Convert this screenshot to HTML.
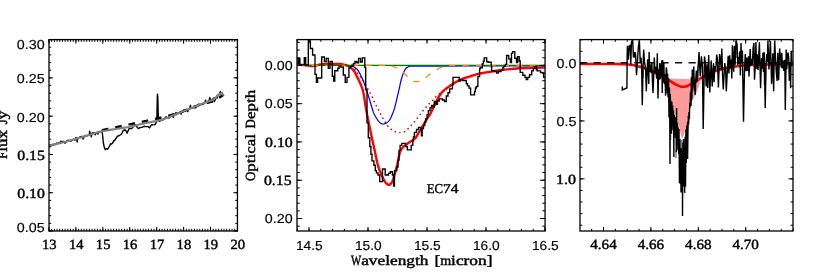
<!DOCTYPE html>
<html><head><meta charset="utf-8"><title>Spectra</title>
<style>html,body{margin:0;padding:0;background:#fff;}body{width:817px;height:272px;overflow:hidden;font-family:"Liberation Sans",sans-serif;}svg{display:block}text{text-rendering:geometricPrecision}</style>
</head><body>
<svg width="817" height="272" viewBox="0 0 817 272">
<rect width="817" height="272" fill="#fff"/>
<path d="M49 145.65 L50.3 144.96 L51.6 145.62 L52.9 144.12 L54.2 144.71 L55.5 144.03 L56.8 143.07 L58.1 143.63 L59.4 142.35 L60.7 142.8 L60.9 141.08 L62 141.73 L63.3 141.43 L64.6 141.76 L64.9 143.23 L65.9 142.22 L67.2 140.46 L68.5 140.31 L69.8 140.77 L71.1 141.06 L72.4 139.97 L73.7 139.25 L75 140.05 L75.9 137.44 L76.3 137.82 L77.2 141.97 L77.6 139.07 L78.9 137.55 L80.2 136.87 L81.5 136.43 L82.8 136.42 L83 139.04 L84.1 137.03 L85.4 135.36 L86.7 135.77 L88 135.48 L89.3 134.56 L89.6 131.22 L90.6 134.51 L91.3 136.81 L91.9 133.16 L93.2 132.77 L94.5 132.69 L95.3 134.85 L95.8 133.28 L97.1 132.43 L98 134.14 L98.4 131.86 L99.7 132.09 L101 131.53 L102 130.6 L102.7 136 L103.3 142.5 L104.2 147 L105.3 149.7 L106.5 148.6 L107.5 149.3 L108.6 147.7 L109.6 146 L110.6 143.8 L111.6 144 L112.6 143.3 L113.5 141 L114.5 140.5 L115.8 138.8 L117.2 136.5 L119 135.6 L121.1 134.5 L122.2 132.5 L123.1 130.6 L124.3 130 L125.7 130.2 L127.1 133.2 L128.2 130.6 L129.1 128.6 L131.7 128.6 L133.5 126.5 L135 124.6 L136.8 126.7 L138.3 128.6 L140 127.6 L142.3 127.2 L144 126.3 L146.3 126.6 L148 126.5 L149.6 127.9 L150.8 125.8 L151.6 124.6 L153.3 124.9 L154.9 124.6 L156.3 122.5 L156.9 118 L157.3 96 L157.5 94.3 L157.8 97 L158.3 117 L158.8 120.5 L159.8 121.5 L161 119.43 L162.3 120.13 L163.6 119.52 L164.9 118.09 L166.2 116.69 L166.2 118.35 L167.5 117.77 L168.8 118.05 L170.1 117.22 L171.4 115.74 L172.7 116.76 L173.5 117.38 L174 114.33 L175.3 114.47 L176 112.56 L176.6 114.68 L177.9 112.82 L179.2 113.02 L180.5 111.5 L181 114.1 L181.8 112.34 L183.1 112.01 L183.5 110.07 L184.4 111.05 L185.7 111.18 L187 109.41 L187.8 111.69 L188.3 109.72 L189.6 108.96 L190.5 105.19 L190.9 108.41 L192.2 107.6 L193.5 107.91 L194.8 107.6 L196 107.73 L196.1 106.03 L197.4 105.91 L198.7 104.06 L200 104.94 L201.3 104.33 L202.6 104.61 L203.9 103.77 L205.2 102.12 L205.5 100.29 L206.5 101.88 L207.8 102.02 L209.1 100.12 L209.8 97.49 L210.4 100.57 L211.7 99.38 L212.5 101.93 L213 98.65 L214.3 97.77 L214.5 101.61 L215.6 98.39 L216.9 95.83 L217 98.35 L218.2 94.76 L219.5 93.85 L220.4 91.51 L220.8 94.19 L222.1 92.99 L222.5 93.86 L223.4 95.08 L223.6 96.2" fill="none" stroke="#000" stroke-width="1.4" stroke-linejoin="round"/>
<path d="M102 130.3 L103.39 129.98 L105.38 129.53 L107.67 129.01 L110 128.5 L112.34 128 L114.81 127.48 L117.38 126.95 L120 126.4 L122.63 125.85 L125.31 125.29 L128.09 124.71 L131 124.1 L134.09 123.46 L137.31 122.8 L140.63 122.11 L144 121.4 L147.46 120.65 L151.03 119.88 L154.58 119.08 L158 118.3 L161.3 117.52 L164.53 116.72 L167.62 115.95 L170.5 115.2 L173.14 114.5 L175.59 113.84 L177.87 113.18 L180 112.5 L181.9 111.8 L183.59 111.08 L185.24 110.35 L187 109.6 L188.88 108.82 L190.81 108.01 L192.84 107.19 L195 106.4 L197.36 105.64 L199.88 104.89 L202.45 104.15 L205 103.4 L207.54 102.72 L210.09 102.08 L212.61 101.35 L215 100.4 L217.43 99.01 L219.88 97.31 L222.01 95.71 L223.5 94.6" fill="none" stroke="#000" stroke-width="2.4" stroke-dasharray="6.6 6.95"/>
<path d="M49 146 L51.85 145.25 L55.82 144.21 L60.51 142.99 L65.53 141.66 L70.49 140.34 L75 139.1 L79.17 137.9 L83.34 136.64 L87.44 135.38 L91.44 134.16 L95.28 133.05 L98.9 132.1 L102.32 131.32 L105.59 130.67 L108.69 130.12 L111.63 129.65 L114.4 129.22 L117 128.8 L119.36 128.42 L121.49 128.12 L123.44 127.86 L125.3 127.61 L127.13 127.33 L129 127 L130.9 126.6 L132.78 126.14 L134.62 125.67 L136.44 125.19 L138.24 124.73 L140 124.3 L141.67 123.93 L143.24 123.6 L144.78 123.29 L146.37 122.97 L148.08 122.62 L150 122.2 L152.04 121.78 L154.13 121.4 L156.34 120.98 L158.76 120.46 L161.45 119.75 L164.5 118.8 L168.16 117.48 L172.43 115.81 L176.97 113.97 L181.46 112.11 L185.58 110.4 L189 109 L191.59 107.95 L193.58 107.13 L195.19 106.46 L196.66 105.86 L198.18 105.23 L200 104.5 L202.18 103.67 L204.56 102.82 L207 101.95 L209.38 101.07 L211.56 100.18 L213.4 99.3 L214.9 98.37 L216.16 97.36 L217.21 96.35 L218.11 95.41 L218.89 94.6 L219.6 94 L220.18 93.62 L220.58 93.42 L220.86 93.36 L221.09 93.39 L221.32 93.48 L221.6 93.6 L221.96 93.79 L222.34 94.1 L222.72 94.47 L223.08 94.85 L223.38 95.18 L223.6 95.4" fill="none" stroke="#808080" stroke-width="2.1" stroke-linecap="butt"/>
<path d="M49 231v-2.21M49 39.6v2.21M51.69 231v-2.21M51.69 39.6v2.21M54.38 231v-2.21M54.38 39.6v2.21M57.08 231v-2.21M57.08 39.6v2.21M59.77 231v-2.21M59.77 39.6v2.21M62.46 231v-2.21M62.46 39.6v2.21M65.15 231v-2.21M65.15 39.6v2.21M67.84 231v-2.21M67.84 39.6v2.21M70.54 231v-2.21M70.54 39.6v2.21M73.23 231v-2.21M73.23 39.6v2.21M75.92 231v-2.21M75.92 39.6v2.21M78.61 231v-2.21M78.61 39.6v2.21M81.31 231v-2.21M81.31 39.6v2.21M84 231v-2.21M84 39.6v2.21M86.69 231v-2.21M86.69 39.6v2.21M89.38 231v-2.21M89.38 39.6v2.21M92.07 231v-2.21M92.07 39.6v2.21M94.77 231v-2.21M94.77 39.6v2.21M97.46 231v-2.21M97.46 39.6v2.21M100.15 231v-2.21M100.15 39.6v2.21M102.84 231v-2.21M102.84 39.6v2.21M105.53 231v-2.21M105.53 39.6v2.21M108.23 231v-2.21M108.23 39.6v2.21M110.92 231v-2.21M110.92 39.6v2.21M113.61 231v-2.21M113.61 39.6v2.21M116.3 231v-2.21M116.3 39.6v2.21M119 231v-2.21M119 39.6v2.21M121.69 231v-2.21M121.69 39.6v2.21M124.38 231v-2.21M124.38 39.6v2.21M127.07 231v-2.21M127.07 39.6v2.21M129.76 231v-2.21M129.76 39.6v2.21M132.46 231v-2.21M132.46 39.6v2.21M135.15 231v-2.21M135.15 39.6v2.21M137.84 231v-2.21M137.84 39.6v2.21M140.53 231v-2.21M140.53 39.6v2.21M143.22 231v-2.21M143.22 39.6v2.21M145.92 231v-2.21M145.92 39.6v2.21M148.61 231v-2.21M148.61 39.6v2.21M151.3 231v-2.21M151.3 39.6v2.21M153.99 231v-2.21M153.99 39.6v2.21M156.69 231v-2.21M156.69 39.6v2.21M159.38 231v-2.21M159.38 39.6v2.21M162.07 231v-2.21M162.07 39.6v2.21M164.76 231v-2.21M164.76 39.6v2.21M167.45 231v-2.21M167.45 39.6v2.21M170.15 231v-2.21M170.15 39.6v2.21M172.84 231v-2.21M172.84 39.6v2.21M175.53 231v-2.21M175.53 39.6v2.21M178.22 231v-2.21M178.22 39.6v2.21M180.91 231v-2.21M180.91 39.6v2.21M183.61 231v-2.21M183.61 39.6v2.21M186.3 231v-2.21M186.3 39.6v2.21M188.99 231v-2.21M188.99 39.6v2.21M191.68 231v-2.21M191.68 39.6v2.21M194.38 231v-2.21M194.38 39.6v2.21M197.07 231v-2.21M197.07 39.6v2.21M199.76 231v-2.21M199.76 39.6v2.21M202.45 231v-2.21M202.45 39.6v2.21M205.14 231v-2.21M205.14 39.6v2.21M207.84 231v-2.21M207.84 39.6v2.21M210.53 231v-2.21M210.53 39.6v2.21M213.22 231v-2.21M213.22 39.6v2.21M215.91 231v-2.21M215.91 39.6v2.21M218.61 231v-2.21M218.61 39.6v2.21M221.3 231v-2.21M221.3 39.6v2.21M223.99 231v-2.21M223.99 39.6v2.21M226.68 231v-2.21M226.68 39.6v2.21M229.37 231v-2.21M229.37 39.6v2.21M232.07 231v-2.21M232.07 39.6v2.21M234.76 231v-2.21M234.76 39.6v2.21M237.45 231v-2.21M237.45 39.6v2.21M49 231v-4.13M49 39.6v4.13M75.92 231v-4.13M75.92 39.6v4.13M102.84 231v-4.13M102.84 39.6v4.13M129.76 231v-4.13M129.76 39.6v4.13M156.69 231v-4.13M156.69 39.6v4.13M183.61 231v-4.13M183.61 39.6v4.13M210.53 231v-4.13M210.53 39.6v4.13M237.45 231v-4.13M237.45 39.6v4.13M49 231h2.18M237.45 231h-2.18M49 223.34h2.18M237.45 223.34h-2.18M49 215.69h2.18M237.45 215.69h-2.18M49 208.03h2.18M237.45 208.03h-2.18M49 200.38h2.18M237.45 200.38h-2.18M49 192.72h2.18M237.45 192.72h-2.18M49 185.06h2.18M237.45 185.06h-2.18M49 177.41h2.18M237.45 177.41h-2.18M49 169.75h2.18M237.45 169.75h-2.18M49 162.1h2.18M237.45 162.1h-2.18M49 154.44h2.18M237.45 154.44h-2.18M49 146.78h2.18M237.45 146.78h-2.18M49 139.13h2.18M237.45 139.13h-2.18M49 131.47h2.18M237.45 131.47h-2.18M49 123.82h2.18M237.45 123.82h-2.18M49 116.16h2.18M237.45 116.16h-2.18M49 108.5h2.18M237.45 108.5h-2.18M49 100.85h2.18M237.45 100.85h-2.18M49 93.19h2.18M237.45 93.19h-2.18M49 85.54h2.18M237.45 85.54h-2.18M49 77.88h2.18M237.45 77.88h-2.18M49 70.22h2.18M237.45 70.22h-2.18M49 62.57h2.18M237.45 62.57h-2.18M49 54.91h2.18M237.45 54.91h-2.18M49 47.26h2.18M237.45 47.26h-2.18M49 39.6h2.18M237.45 39.6h-2.18M49 231h4.07M237.45 231h-4.07M49 192.72h4.07M237.45 192.72h-4.07M49 154.44h4.07M237.45 154.44h-4.07M49 116.16h4.07M237.45 116.16h-4.07M49 77.88h4.07M237.45 77.88h-4.07M49 39.6h4.07M237.45 39.6h-4.07" stroke="#000" stroke-width="1.0" fill="none"/>
<rect x="49" y="39.6" width="188.45" height="191.4" fill="none" stroke="#000" stroke-width="1.3"/>
<path d="M297 64.9 L297.83 64.91 L299.02 64.91 L300.38 64.92 L301.77 64.95 L303 65 L304.08 65.09 L305.12 65.21 L306.12 65.35 L307.08 65.48 L308 65.6 L308.86 65.71 L309.67 65.82 L310.45 65.91 L311.22 65.98 L312 66 L312.8 65.97 L313.6 65.89 L314.4 65.78 L315.2 65.65 L316 65.5 L316.77 65.32 L317.5 65.11 L318.26 64.89 L319.07 64.68 L320 64.5 L321.04 64.36 L322.16 64.24 L323.36 64.15 L324.64 64.07 L326 64 L327.5 63.95 L329.15 63.92 L330.85 63.91 L332.5 63.9 L334 63.9 L335.35 63.9 L336.62 63.89 L337.8 63.9 L338.93 63.93 L340 64 L341 64.1 L341.91 64.23 L342.78 64.39 L343.63 64.58 L344.5 64.8 L345.38 65.03 L346.24 65.25 L347.11 65.53 L347.99 65.89 L348.9 66.4 L349.87 67.05 L350.89 67.81 L351.91 68.68 L352.9 69.64 L353.8 70.7 L354.6 71.87 L355.33 73.14 L356.02 74.51 L356.69 75.94 L357.4 77.4 L358.15 78.92 L358.94 80.53 L359.71 82.17 L360.44 83.8 L361.1 85.4 L361.66 86.83 L362.15 88.11 L362.6 89.45 L363.04 91.01 L363.5 93 L363.98 95.54 L364.45 98.52 L364.92 101.72 L365.4 104.95 L365.9 108 L366.41 110.85 L366.94 113.62 L367.48 116.38 L368.03 119.15 L368.6 122 L369.19 124.95 L369.81 127.98 L370.44 131.02 L371.07 134.05 L371.7 137 L372.32 139.85 L372.93 142.63 L373.55 145.39 L374.17 148.16 L374.8 151 L375.43 153.97 L376.05 157.04 L376.69 160.1 L377.37 163.06 L378.1 165.8 L378.92 168.35 L379.82 170.79 L380.75 173.07 L381.66 175.15 L382.5 177 L383.26 178.6 L383.98 179.97 L384.67 181.14 L385.34 182.15 L386 183 L386.65 183.72 L387.28 184.29 L387.89 184.68 L388.5 184.89 L389.1 184.9 L389.7 184.69 L390.29 184.28 L390.88 183.69 L391.45 182.92 L392 182 L392.52 180.93 L393.01 179.69 L393.49 178.28 L393.98 176.72 L394.5 175 L395.07 173.05 L395.66 170.86 L396.27 168.55 L396.86 166.23 L397.4 164 L397.88 161.79 L398.33 159.53 L398.75 157.34 L399.17 155.32 L399.6 153.6 L400.02 152.24 L400.43 151.17 L400.84 150.28 L401.29 149.49 L401.8 148.7 L402.38 147.93 L403.03 147.23 L403.71 146.59 L404.4 145.99 L405.1 145.4 L405.8 144.83 L406.52 144.3 L407.25 143.79 L407.98 143.3 L408.7 142.8 L409.42 142.31 L410.15 141.84 L410.88 141.36 L411.6 140.89 L412.3 140.4 L412.99 139.93 L413.66 139.48 L414.32 139.01 L414.97 138.46 L415.6 137.8 L416.2 136.98 L416.78 136.05 L417.35 135.04 L417.92 134.01 L418.5 133 L419.09 132.01 L419.69 131.01 L420.3 130.01 L420.9 129 L421.5 128 L422.1 127 L422.7 126 L423.3 125 L423.9 124 L424.5 123 L425.11 121.97 L425.73 120.91 L426.35 119.87 L426.94 118.88 L427.5 118 L427.99 117.3 L428.42 116.76 L428.83 116.25 L429.28 115.64 L429.8 114.8 L430.42 113.65 L431.11 112.28 L431.84 110.8 L432.55 109.33 L433.2 108 L433.78 106.82 L434.31 105.73 L434.82 104.67 L435.35 103.61 L435.9 102.5 L436.49 101.31 L437.09 100.07 L437.71 98.83 L438.35 97.62 L439 96.5 L439.66 95.46 L440.32 94.48 L441.01 93.55 L441.73 92.66 L442.5 91.8 L443.34 90.97 L444.24 90.18 L445.17 89.42 L446.1 88.69 L447 88 L447.87 87.35 L448.72 86.74 L449.56 86.16 L450.42 85.59 L451.3 85 L452.2 84.4 L453.12 83.79 L454.05 83.18 L455.01 82.58 L456 82 L456.96 81.45 L457.89 80.93 L458.88 80.41 L460.02 79.87 L461.4 79.3 L463.11 78.67 L465.09 77.98 L467.2 77.29 L469.32 76.62 L471.3 76 L473.09 75.44 L474.79 74.91 L476.47 74.42 L478.21 73.95 L480.1 73.5 L482.17 73.08 L484.38 72.69 L486.66 72.32 L488.95 71.96 L491.2 71.6 L493.38 71.24 L495.52 70.88 L497.68 70.53 L499.89 70.2 L502.2 69.9 L504.72 69.62 L507.42 69.35 L510.14 69.11 L512.72 68.89 L515 68.7 L516.68 68.56 L517.87 68.46 L519.02 68.38 L520.58 68.3 L523 68.2 L526.86 68.06 L531.85 67.9 L537.11 67.74 L541.78 67.6 L545 67.5" fill="none" stroke="#ff0000" stroke-width="2.4" stroke-linejoin="round"/>
<path d="M352 65.6 L352.45 66.13 L353.11 66.89 L353.83 67.76 L354.5 68.6 L355.08 69.39 L355.65 70.21 L356.22 71.04 L356.8 71.9 L357.41 72.81 L358.04 73.77 L358.68 74.71 L359.3 75.6 L359.9 76.37 L360.48 77.06 L361.07 77.77 L361.7 78.6 L362.36 79.58 L363.06 80.66 L363.77 81.8 L364.5 83 L365.28 84.29 L366.09 85.67 L366.88 87.05 L367.6 88.3 L368.21 89.39 L368.76 90.37 L369.27 91.32 L369.8 92.3 L370.36 93.33 L370.92 94.37 L371.47 95.42 L372 96.5 L372.49 97.61 L372.95 98.74 L373.41 99.88 L373.9 101 L374.43 102.12 L374.99 103.25 L375.56 104.35 L376.1 105.4 L376.61 106.36 L377.1 107.25 L377.59 108.14 L378.1 109.1 L378.63 110.15 L379.18 111.26 L379.73 112.38 L380.3 113.5 L380.88 114.6 L381.48 115.71 L382.09 116.81 L382.7 117.9 L383.31 118.97 L383.92 120.02 L384.55 121.06 L385.2 122.1 L385.87 123.15 L386.55 124.21 L387.26 125.23 L388 126.2 L388.78 127.11 L389.58 127.97 L390.42 128.77 L391.3 129.5 L392.22 130.16 L393.17 130.76 L394.16 131.27 L395.2 131.7 L396.3 132.04 L397.45 132.29 L398.63 132.45 L399.8 132.5 L400.99 132.46 L402.21 132.34 L403.4 132.09 L404.5 131.7 L405.48 131.12 L406.38 130.38 L407.24 129.54 L408.1 128.7 L408.97 127.84 L409.84 126.92 L410.68 125.99 L411.5 125.1 L412.28 124.27 L413.02 123.47 L413.76 122.66 L414.5 121.8 L415.25 120.87 L416 119.89 L416.75 118.89 L417.5 117.9 L418.25 116.93 L419 115.96 L419.75 114.98 L420.5 114 L421.25 113 L421.99 111.97 L422.74 110.97 L423.5 110 L424.27 109.09 L425.04 108.21 L425.82 107.35 L426.6 106.5 L427.37 105.66 L428.13 104.84 L428.9 104.03 L429.7 103.2 L430.55 102.37 L431.44 101.53 L432.34 100.68 L433.2 99.8 L434.01 98.85 L434.79 97.86 L435.57 96.88 L436.4 96 L437.29 95.26 L438.21 94.62 L439.15 93.99 L440.1 93.3 L441.06 92.51 L442.03 91.67 L443.01 90.82 L444 90 L444.99 89.22 L445.99 88.47 L447 87.73 L448 87 L448.95 86.3 L449.88 85.61 L450.86 84.92 L452 84.2 L453.34 83.43 L454.81 82.63 L456.38 81.81 L458 81 L459.68 80.17 L461.44 79.33 L463.23 78.52 L465 77.8 L466.72 77.2 L468.43 76.69 L470.17 76.21 L472 75.7 L473.88 75.15 L475.79 74.59 L477.84 74.03 L480.1 73.5 L482.67 73 L485.47 72.52 L488.36 72.05 L491.2 71.6 L493.91 71.16 L496.59 70.73 L499.33 70.31 L502.2 69.9 L505.39 69.46 L508.79 69.02 L512.1 68.61 L515 68.3 L517.01 68.13 L518.42 68.06 L520.13 68.01 L523 67.9 L528.03 67.69 L534.5 67.43 L540.72 67.17 L545 67" fill="none" stroke="#ff0000" stroke-width="1.7" stroke-dasharray="0.1 4.6" stroke-linecap="round"/>
<path d="M346 65.7 L346.45 65.71 L347.09 65.71 L347.84 65.72 L348.63 65.74 L349.37 65.76 L350 65.8 L350.5 65.83 L350.93 65.86 L351.31 65.89 L351.69 65.95 L352.07 66.05 L352.5 66.2 L352.97 66.4 L353.46 66.64 L353.96 66.92 L354.47 67.24 L354.99 67.6 L355.5 68 L356 68.42 L356.5 68.84 L357.01 69.31 L357.52 69.85 L358.05 70.5 L358.6 71.3 L359.19 72.28 L359.81 73.41 L360.45 74.66 L361.09 75.97 L361.71 77.3 L362.3 78.6 L362.85 79.85 L363.36 81.09 L363.86 82.34 L364.35 83.66 L364.86 85.06 L365.4 86.6 L365.97 88.3 L366.56 90.13 L367.17 92.06 L367.78 94.04 L368.39 96.04 L369 98 L369.63 100.04 L370.29 102.2 L370.94 104.38 L371.57 106.45 L372.13 108.3 L372.6 109.8 L372.93 110.86 L373.14 111.57 L373.28 112.04 L373.42 112.43 L373.61 112.87 L373.9 113.5 L374.31 114.33 L374.79 115.26 L375.32 116.24 L375.89 117.22 L376.45 118.16 L377 119 L377.54 119.77 L378.09 120.52 L378.64 121.22 L379.19 121.87 L379.75 122.43 L380.3 122.9 L380.84 123.28 L381.38 123.58 L381.92 123.8 L382.46 123.94 L383.02 124.01 L383.6 124 L384.22 123.9 L384.87 123.7 L385.53 123.42 L386.19 123.09 L386.82 122.71 L387.4 122.3 L387.93 121.87 L388.42 121.4 L388.89 120.89 L389.33 120.32 L389.77 119.7 L390.2 119 L390.63 118.21 L391.04 117.33 L391.45 116.39 L391.84 115.41 L392.23 114.44 L392.6 113.5 L392.94 112.68 L393.24 111.98 L393.54 111.28 L393.84 110.46 L394.19 109.41 L394.6 108 L395.09 106.16 L395.64 103.96 L396.23 101.53 L396.83 98.98 L397.43 96.43 L398 94 L398.55 91.59 L399.11 89.09 L399.66 86.59 L400.2 84.18 L400.72 81.95 L401.2 80 L401.65 78.35 L402.06 76.93 L402.45 75.69 L402.83 74.59 L403.21 73.58 L403.6 72.6 L403.99 71.68 L404.36 70.85 L404.73 70.11 L405.11 69.45 L405.53 68.85 L406 68.3 L406.53 67.81 L407.12 67.39 L407.74 67.04 L408.37 66.74 L409 66.5 L409.6 66.3 L410.22 66.17 L410.87 66.12 L411.53 66.13 L412.13 66.16 L412.63 66.19 L413 66.2 L440 66.2 L470 66 L545 65.8" fill="none" stroke="#0000ff" stroke-width="1.25" />
<path d="M297 65.35 L545 65.35" fill="none" stroke="#007800" stroke-width="1.35" />
<path d="M297 65.3 L392 65.3 L392 66.22 L393 66.46 L394 66.76 L395 67.11 L396 67.52 L397 68 L398 68.55 L399 69.17 L400 69.86 L401 70.62 L402 71.46 L403 72.34 L404 73.28 L405 74.26 L406 75.25 L407 76.24 L408 77.21 L409 78.14 L410 79 L411 79.77 L412 80.44 L413 80.98 L414 81.38 L415 81.62 L416 81.7 L417 81.65 L418 81.49 L419 81.23 L420 80.88 L421 80.44 L422 79.92 L423 79.32 L424 78.66 L425 77.96 L426 77.21 L427 76.43 L428 75.64 L429 74.85 L430 74.06 L431 73.28 L432 72.53 L433 71.8 L434 71.12 L435 70.47 L436 69.86 L437 69.3 L438 68.79 L439 68.32 L440 67.9 L441 67.52 L442 67.19 L443 66.89 L444 66.63 L446 65.3 L545 65.3" fill="none" stroke="#ff8a00" stroke-width="1.3" stroke-dasharray="6.2 7.25" stroke-dashoffset="12.2"/>
<path d="M297 58.2H298.1V63.5H298.9V58.4H299.9V64.8H304.3V57.6H305.7V64.9H308.3V41H310.4V48.5H312.6V55H315V74.4H316.4V82.3H317.6V78H321.7V57H324.4V61.5H326.2V58.4H328.3V68.2H330V61.5H332.3V76.2H333.6V81.1H334.8V70.7H337.8V68.2H339.1V65.8H340.9V67H343.3V75H345.2V82.3H347V77.4H348.9V68.2H350.5V66.4H352V65.2H353.5V63.5H355V61.5H356.8V62.7H358.6V58.4H360.5V62H362.3V57.8H364.8V67.4H365.7V89.9H367V122.9H368.3V137.7H369.8V146.5H370.9V154.2H372V160.8H373.9V165.2H375.3V170.6H376.4V172.8H378V175H379.7V181.6H382.5V169H385.2V175H388.5V173.4H390.2V171.7H392.4V175H393.6V186H394.5V170.6H396.8V167H398V160H399V150.3H400.1V145.4H401.8V143.4H405.6V146.5H407.3V149.8H411.2V145.4H412.8V141H413.4V137H414.4V132.4H416.5V129.5H418.5V127.3H420.6V129H421.4V135.7H422.2V128.5H423.5V125.5H424.8V122H425.8V118.6H427.1V114.6H428.4V110.6H430V107.8H431.5V105.5H433.2V107H434.3V101.5H435.9V104.3H437.5V101H439.2V98.8H442.5V100H444.5V101.5H446.3V96H448V92.7H449.7V88.9H452.4V85H453V77.3H459.2V81H460.3V79.8H462.5V80.5H466.3V83.7H467.5V85.9H469.1V88.1H470.6V94.9H474.5V91.5H475.4V88H476.3V86.5H477.9V76.5H479.6V68.8H480.1V67.7H482.3V63.9H483.4V61.1H484.2V57.8H486.7V61.7H488.4V62.2H491.2V66.6H491.7V70.9H495V71.5H496.6V73.1H498.3V71.5H501V70.4H502.7V67.6H503.8V66H505.4V64.3H506.6V55.5H508.7V58.8H510.4V62.6H511.5V53.3H512.6V51.6H514.8V58.2H516.5V62.6H517.6V56.6H519.2V61H520.2V72.3H522.8V75.2H525V77.4H526.2V79.6H527.8V77.4H529.5V74.7H531.7V70.8H533.3V68.6H534.4V66.4H536.3V69.7H537.2V70.8H540.5V72.5H542.7V73H543.6V77.4H545" fill="none" stroke="#000" stroke-width="1.35" stroke-linejoin="miter" />
<path d="M297.2 231v-2.21M297.2 39.6v2.21M309 231v-2.21M309 39.6v2.21M320.8 231v-2.21M320.8 39.6v2.21M332.6 231v-2.21M332.6 39.6v2.21M344.4 231v-2.21M344.4 39.6v2.21M356.2 231v-2.21M356.2 39.6v2.21M368 231v-2.21M368 39.6v2.21M379.8 231v-2.21M379.8 39.6v2.21M391.6 231v-2.21M391.6 39.6v2.21M403.4 231v-2.21M403.4 39.6v2.21M415.2 231v-2.21M415.2 39.6v2.21M427 231v-2.21M427 39.6v2.21M438.8 231v-2.21M438.8 39.6v2.21M450.6 231v-2.21M450.6 39.6v2.21M462.4 231v-2.21M462.4 39.6v2.21M474.2 231v-2.21M474.2 39.6v2.21M486 231v-2.21M486 39.6v2.21M497.8 231v-2.21M497.8 39.6v2.21M509.6 231v-2.21M509.6 39.6v2.21M521.4 231v-2.21M521.4 39.6v2.21M533.2 231v-2.21M533.2 39.6v2.21M545 231v-2.21M545 39.6v2.21M309 231v-4.13M309 39.6v4.13M368 231v-4.13M368 39.6v4.13M427 231v-4.13M427 39.6v4.13M486 231v-4.13M486 39.6v4.13M545 231v-4.13M545 39.6v4.13M297 42.44h2.78M545.05 42.44h-2.78M297 50.09h2.78M545.05 50.09h-2.78M297 57.75h2.78M545.05 57.75h-2.78M297 65.4h2.78M545.05 65.4h-2.78M297 73.06h2.78M545.05 73.06h-2.78M297 80.71h2.78M545.05 80.71h-2.78M297 88.37h2.78M545.05 88.37h-2.78M297 96.02h2.78M545.05 96.02h-2.78M297 103.68h2.78M545.05 103.68h-2.78M297 111.33h2.78M545.05 111.33h-2.78M297 118.99h2.78M545.05 118.99h-2.78M297 126.64h2.78M545.05 126.64h-2.78M297 134.3h2.78M545.05 134.3h-2.78M297 141.95h2.78M545.05 141.95h-2.78M297 149.61h2.78M545.05 149.61h-2.78M297 157.26h2.78M545.05 157.26h-2.78M297 164.92h2.78M545.05 164.92h-2.78M297 172.57h2.78M545.05 172.57h-2.78M297 180.23h2.78M545.05 180.23h-2.78M297 187.88h2.78M545.05 187.88h-2.78M297 195.54h2.78M545.05 195.54h-2.78M297 203.19h2.78M545.05 203.19h-2.78M297 210.84h2.78M545.05 210.84h-2.78M297 218.5h2.78M545.05 218.5h-2.78M297 226.16h2.78M545.05 226.16h-2.78M297 65.4h5.26M545.05 65.4h-5.26M297 103.68h5.26M545.05 103.68h-5.26M297 141.95h5.26M545.05 141.95h-5.26M297 180.23h5.26M545.05 180.23h-5.26M297 218.5h5.26M545.05 218.5h-5.26" stroke="#000" stroke-width="1.0" fill="none"/>
<rect x="297" y="39.6" width="248.05" height="191.4" fill="none" stroke="#000" stroke-width="1.3"/>
<path d="M667.5 78.5 L668.3 87 L669.8 96 L671.8 105.9 L675.5 115.8 L678.8 125.8 L680.5 133 L681.8 139 L683.6 135.7 L686.8 125.8 L688.2 115.8 L690.2 105.9 L692.8 100 L695 95.5 L699.5 85 L701 79.5Z" fill="#ff9a9a"/>
<path d="M580 63.95 L582.18 63.95 L585.19 63.96 L588.75 63.97 L592.59 63.98 L596.44 63.99 L600 64 L603.45 64.01 L607.04 64.01 L610.62 64.02 L614.07 64.03 L617.25 64.05 L620 64.1 L622.29 64.17 L624.22 64.25 L625.88 64.34 L627.33 64.45 L628.68 64.57 L630 64.7 L631.23 64.84 L632.3 64.98 L633.25 65.13 L634.15 65.3 L635.05 65.49 L636 65.7 L636.98 65.93 L637.93 66.16 L638.88 66.42 L639.85 66.7 L640.88 67.03 L642 67.4 L643.22 67.83 L644.52 68.31 L645.88 68.83 L647.26 69.37 L648.64 69.93 L650 70.5 L651.36 71.09 L652.74 71.71 L654.12 72.34 L655.48 72.98 L656.78 73.61 L658 74.2 L659.13 74.77 L660.2 75.33 L661.22 75.88 L662.19 76.4 L663.11 76.91 L664 77.4 L664.84 77.85 L665.61 78.27 L666.34 78.67 L667.06 79.06 L667.77 79.47 L668.5 79.9 L669.24 80.36 L669.98 80.84 L670.72 81.34 L671.46 81.83 L672.22 82.32 L673 82.8 L673.8 83.28 L674.62 83.77 L675.46 84.25 L676.3 84.71 L677.15 85.13 L678 85.5 L678.86 85.83 L679.73 86.13 L680.61 86.39 L681.49 86.6 L682.35 86.74 L683.2 86.8 L684.02 86.76 L684.82 86.64 L685.61 86.44 L686.4 86.2 L687.19 85.91 L688 85.6 L688.81 85.26 L689.6 84.89 L690.4 84.47 L691.22 84.02 L692.08 83.53 L693 83 L693.98 82.41 L695.02 81.76 L696.1 81.07 L697.2 80.36 L698.31 79.67 L699.4 79 L700.45 78.37 L701.47 77.77 L702.5 77.17 L703.57 76.57 L704.72 75.95 L706 75.3 L707.43 74.6 L708.99 73.86 L710.62 73.09 L712.3 72.34 L713.98 71.64 L715.6 71 L717.14 70.44 L718.63 69.93 L720.11 69.46 L721.64 69.02 L723.25 68.6 L725 68.2 L726.92 67.81 L728.97 67.44 L731.11 67.09 L733.3 66.77 L735.47 66.47 L737.6 66.2 L739.65 65.96 L741.65 65.75 L743.65 65.56 L745.68 65.4 L747.79 65.24 L750 65.1 L752.2 64.97 L754.33 64.86 L756.52 64.76 L758.94 64.67 L761.72 64.59 L765 64.5 L769.24 64.41 L774.41 64.31 L779.94 64.21 L785.26 64.13 L789.8 64.05 L793 64" fill="none" stroke="#ff0000" stroke-width="2.6" />
<path d="M580 62.75 L793 62.75" fill="none" stroke="#111" stroke-width="1.45" stroke-dasharray="7.2 6.37"/>
<path d="M643.2 68.5 L643.2 78" fill="none" stroke="#808080" stroke-width="1.4" />
<path d="M642.6 68.5 L642.6 78" fill="none" stroke="#808080" stroke-width="1.4" />
<path d="M670.6 117 L670.6 140" fill="none" stroke="#808080" stroke-width="1.4" />
<path d="M736.3 40.5 L736.3 58" fill="none" stroke="#808080" stroke-width="1.4" />
<path d="M676 150 L676 158" fill="none" stroke="#808080" stroke-width="1.4" />
<path d="M681.6 140 L681.6 150" fill="none" stroke="#808080" stroke-width="1.4" />
<path d="M698 66 L698 80" fill="none" stroke="#808080" stroke-width="1.4" />
<path d="M764.3 70 L764.3 85" fill="none" stroke="#808080" stroke-width="1.4" />
<path d="M622.3 86.5 L622.3 90 L626.9 88 L627.2 55 L627.4 45.85 L628.27 59.74 L629.2 46 L630.23 45.37 L630.77 65.1 L631.39 43.03 L632.2 39.8 L632.69 40.5 L633.45 57.54 L634.2 52.08 L634.91 57.34 L635.43 52.2 L635.94 61.81 L636.5 75.3 L637.34 63.19 L638.4 46.6 L639.39 40.5 L640.22 61.96 L641.01 57.51 L641.62 66.76 L642.3 105.2 L642.99 69.97 L643.64 49.58 L644.5 61.9 L645.62 69.54 L646.3 91.2 L647.09 70.84 L647.7 59.3 L648.8 83.9 L649.1 52.1 L649.93 71.83 L650.45 64.51 L651.17 73.1 L651.85 62.44 L652.41 79.94 L653 93 L653.75 75.16 L654.3 57.6 L654.98 73.26 L655.83 66.71 L656.67 78.72 L657.3 53.3 L658 98.5 L658.62 69.25 L659.24 79.71 L659.77 63.04 L660.36 79.19 L661.1 66.37 L662 60 L662.2 93 L662.68 60.14 L663.25 82.38 L663.82 62.55 L664.42 84.22 L664.99 74.05 L665.57 95.71 L666.3 67.4 L666.8 70.67 L667.27 93.48 L667.65 73.71 L668.05 97.24 L668.51 78.02 L669 117.58 L669.45 87.47 L669.83 127.62 L670 164 L670.31 94.1 L670.76 128.59 L671.14 101.07 L671.46 133.73 L671.85 101.65 L672.22 125.29 L672.65 105.61 L673.14 130.17 L673.5 110.53 L673.9 157 L673.92 137.78 L674.3 114.79 L674.73 135.3 L675.18 117.39 L675.48 137.94 L675.93 117.14 L676.31 152.13 L676.6 108 L676.65 119.74 L676.97 150.36 L677.45 122.77 L677.85 138.13 L678.27 127.48 L678.69 153.73 L679.01 128.99 L679.46 183.34 L679.95 139 L680.32 183.86 L680.69 150.28 L681 192.4 L681.36 148.17 L681.75 186.02 L682.1 151.38 L682.48 185.12 L682.5 216 L682.89 142.4 L683.19 184.7 L683.5 138.91 L683.91 186.29 L684.34 153.71 L684.65 192.88 L685.09 136.84 L685.53 186.72 L685.9 129.23 L686.25 163.1 L686.74 125.66 L687.13 140.22 L687.59 121.83 L687.6 159 L687.92 133.49 L688.31 115.66 L688.62 124.47 L688.94 112.04 L689.38 119.21 L689.73 103.1 L690.11 107.7 L690.52 91.49 L691.01 106.09 L691.36 76.9 L691.84 99.54 L692.26 69.39 L692.61 91.24 L693.75 66.41 L694.28 85.56 L695.3 95 L695.78 79.16 L696.37 70.47 L697.11 82.23 L697.98 69.5 L699 52.1 L700.24 76.3 L701.4 56.4 L702.4 66.59 L703.2 129 L704.5 56.4 L705.44 63.19 L706.1 86.4 L707.12 64.24 L707.73 87.94 L708.7 55.1 L709.8 92.5 L711.2 60.6 L712.2 86.4 L712.84 72.2 L713.56 63.17 L714.07 82.16 L714.63 66.04 L715.46 70.87 L716.05 65.98 L716.7 54.5 L717.48 60.15 L718.4 87.6 L719.6 54 L720.45 58.83 L721.24 70.14 L721.8 48.4 L722.59 75.72 L723.3 89.5 L723.95 76.74 L724.77 63.02 L725.64 70 L726.3 91.3 L727.18 73.66 L728.2 55.7 L728.9 73.55 L729.72 55.25 L730.48 68.42 L731.06 59.59 L731.82 78.37 L732.4 45.3 L733.7 71.7 L734.39 45.99 L735.01 65.19 L736.1 40.4 L737.09 44.53 L737.78 65.05 L738.29 56.92 L739.11 64.02 L739.68 51.28 L740.4 75.4 L741 42.9 L741.63 63.58 L742.41 50.62 L743.5 121.7 L744.44 73.11 L745.23 54.1 L746.07 71.14 L746.79 57.46 L747.63 70.97 L748.49 56.33 L749 76.6 L750.2 49 L750.8 65.96 L751.5 58.94 L752.39 64.71 L753.1 48.33 L753.9 42.9 L754.5 79.7 L755.24 66.39 L755.9 42.13 L756.51 68.61 L757.2 54.22 L758.02 69.96 L758.88 53.18 L759.4 42.3 L760.6 88.3 L761.53 58.02 L762.3 68.63 L762.93 52.54 L763.47 71.9 L764.27 52.21 L765.2 108 L766.1 63.68 L766.76 53.94 L767.34 62.57 L767.9 40.4 L768.94 69.47 L769.68 54.93 L770.4 41 L771.6 84 L772.8 53.19 L773.65 91.31 L774.21 58.38 L774.7 40.4 L775.35 55.15 L776.16 70.08 L777.1 80.9 L777.8 52.82 L778.69 80.16 L779.6 48.4 L780.71 60.39 L781.25 67.7 L781.77 52.71 L782.5 68.47 L783.05 60.39 L783.89 70.99 L784.79 59.74 L785.3 110 L786.19 49.6 L786.82 69.25 L787.51 54.47 L788 52.7 L788.76 58.29 L789.33 80.81 L790.01 62.45 L790.6 88.3 L791.2 50.9 L792.01 66.11" fill="none" stroke="#000" stroke-width="1.4" stroke-linejoin="miter" stroke-miterlimit="2"/>
<path d="M591.65 231v-2.21M591.65 39.6v2.21M603.5 231v-2.21M603.5 39.6v2.21M615.35 231v-2.21M615.35 39.6v2.21M627.2 231v-2.21M627.2 39.6v2.21M639.05 231v-2.21M639.05 39.6v2.21M650.9 231v-2.21M650.9 39.6v2.21M662.75 231v-2.21M662.75 39.6v2.21M674.6 231v-2.21M674.6 39.6v2.21M686.45 231v-2.21M686.45 39.6v2.21M698.3 231v-2.21M698.3 39.6v2.21M710.15 231v-2.21M710.15 39.6v2.21M722 231v-2.21M722 39.6v2.21M733.85 231v-2.21M733.85 39.6v2.21M745.7 231v-2.21M745.7 39.6v2.21M757.55 231v-2.21M757.55 39.6v2.21M769.4 231v-2.21M769.4 39.6v2.21M781.25 231v-2.21M781.25 39.6v2.21M793.1 231v-2.21M793.1 39.6v2.21M603.5 231v-4.13M603.5 39.6v4.13M650.9 231v-4.13M650.9 39.6v4.13M698.3 231v-4.13M698.3 39.6v4.13M745.7 231v-4.13M745.7 39.6v4.13M580 39.77h2.43M793 39.77h-2.43M580 51.36h2.43M793 51.36h-2.43M580 62.95h2.43M793 62.95h-2.43M580 74.54h2.43M793 74.54h-2.43M580 86.13h2.43M793 86.13h-2.43M580 97.72h2.43M793 97.72h-2.43M580 109.31h2.43M793 109.31h-2.43M580 120.9h2.43M793 120.9h-2.43M580 132.49h2.43M793 132.49h-2.43M580 144.08h2.43M793 144.08h-2.43M580 155.67h2.43M793 155.67h-2.43M580 167.26h2.43M793 167.26h-2.43M580 178.85h2.43M793 178.85h-2.43M580 190.44h2.43M793 190.44h-2.43M580 202.03h2.43M793 202.03h-2.43M580 213.62h2.43M793 213.62h-2.43M580 225.21h2.43M793 225.21h-2.43M580 62.95h4.56M793 62.95h-4.56M580 120.9h4.56M793 120.9h-4.56M580 178.85h4.56M793 178.85h-4.56" stroke="#000" stroke-width="1.0" fill="none"/>
<rect x="580" y="39.6" width="213" height="191.4" fill="none" stroke="#000" stroke-width="1.3"/>
<g style="filter:grayscale(1)">
<g transform="translate(49.3 249.1)" font-family="Liberation Serif, serif" font-size="14.0" fill="#000" stroke="#000" stroke-width="0.42"><text transform="translate(-7.30 0) scale(1.043 1.0)">1</text><text transform="translate(0.00 0) scale(1.043 1.0)">3</text></g>
<g transform="translate(76.22 249.1)" font-family="Liberation Serif, serif" font-size="14.0" fill="#000" stroke="#000" stroke-width="0.42"><text transform="translate(-7.30 0) scale(1.043 1.0)">1</text><text transform="translate(0.00 0) scale(1.043 1.0)">4</text></g>
<g transform="translate(103.14 249.1)" font-family="Liberation Serif, serif" font-size="14.0" fill="#000" stroke="#000" stroke-width="0.42"><text transform="translate(-7.30 0) scale(1.043 1.0)">1</text><text transform="translate(0.00 0) scale(1.043 1.0)">5</text></g>
<g transform="translate(130.06 249.1)" font-family="Liberation Serif, serif" font-size="14.0" fill="#000" stroke="#000" stroke-width="0.42"><text transform="translate(-7.30 0) scale(1.043 1.0)">1</text><text transform="translate(0.00 0) scale(1.043 1.0)">6</text></g>
<g transform="translate(156.99 249.1)" font-family="Liberation Serif, serif" font-size="14.0" fill="#000" stroke="#000" stroke-width="0.42"><text transform="translate(-7.30 0) scale(1.043 1.0)">1</text><text transform="translate(0.00 0) scale(1.043 1.0)">7</text></g>
<g transform="translate(183.91 249.1)" font-family="Liberation Serif, serif" font-size="14.0" fill="#000" stroke="#000" stroke-width="0.42"><text transform="translate(-7.30 0) scale(1.043 1.0)">1</text><text transform="translate(0.00 0) scale(1.043 1.0)">8</text></g>
<g transform="translate(210.83 249.1)" font-family="Liberation Serif, serif" font-size="14.0" fill="#000" stroke="#000" stroke-width="0.42"><text transform="translate(-7.30 0) scale(1.043 1.0)">1</text><text transform="translate(0.00 0) scale(1.043 1.0)">9</text></g>
<g transform="translate(237.75 249.1)" font-family="Liberation Serif, serif" font-size="14.0" fill="#000" stroke="#000" stroke-width="0.42"><text transform="translate(-7.30 0) scale(1.043 1.0)">2</text><text transform="translate(0.00 0) scale(1.043 1.0)">0</text></g>
<text transform="translate(44.7 49.1) scale(1.1 1.0)" font-family="Liberation Sans, sans-serif" font-size="13" text-anchor="end" fill="#000" stroke="#000" stroke-width="0.15">0.30</text>
<text transform="translate(44.7 83.1) scale(1.1 1.0)" font-family="Liberation Sans, sans-serif" font-size="13" text-anchor="end" fill="#000" stroke="#000" stroke-width="0.15">0.25</text>
<text transform="translate(44.7 121.8) scale(1.1 1.0)" font-family="Liberation Sans, sans-serif" font-size="13" text-anchor="end" fill="#000" stroke="#000" stroke-width="0.15">0.20</text>
<text transform="translate(44.7 231.5) scale(1.1 1.0)" font-family="Liberation Sans, sans-serif" font-size="13" text-anchor="end" fill="#000" stroke="#000" stroke-width="0.15">0.05</text>
<g transform="translate(44.9 159.6)" font-family="Liberation Serif, serif" font-size="14.0" fill="#000" stroke="#000" stroke-width="0.42"><text transform="translate(-27.65 0) scale(1.129 1.0)">0</text><text transform="translate(-19.75 0) scale(1.129 1.0)">.</text><text transform="translate(-15.80 0) scale(1.129 1.0)">1</text><text transform="translate(-7.90 0) scale(1.129 1.0)">5</text></g>
<g transform="translate(44.9 198)" font-family="Liberation Serif, serif" font-size="14.0" fill="#000" stroke="#000" stroke-width="0.42"><text transform="translate(-27.65 0) scale(1.129 1.0)">0</text><text transform="translate(-19.75 0) scale(1.129 1.0)">.</text><text transform="translate(-15.80 0) scale(1.129 1.0)">1</text><text transform="translate(-7.90 0) scale(1.129 1.0)">0</text></g>
<g transform="translate(6.9 158.9) rotate(-90)" font-family="Liberation Serif, serif" font-size="14.0" fill="#000" stroke="#000" stroke-width="0.42"><text transform="translate(0.00 0) scale(0.930 1.0)">F</text><text transform="translate(7.24 0) scale(1.209 1.0)">l</text><text transform="translate(11.95 0) scale(1.209 1.0)">u</text><text transform="translate(20.41 0) scale(1.209 1.0)">x</text><text transform="translate(34.67 0) scale(0.930 1.0)">J</text><text transform="translate(39.73 0) scale(1.209 1.0)">y</text></g>
<text transform="translate(309.3 249.5) scale(1.06 1.0)" font-family="Liberation Sans, sans-serif" font-size="13" text-anchor="middle" fill="#000" stroke="#000" stroke-width="0.15">14.5</text>
<text transform="translate(368.3 249.5) scale(1.06 1.0)" font-family="Liberation Sans, sans-serif" font-size="13" text-anchor="middle" fill="#000" stroke="#000" stroke-width="0.15">15.0</text>
<text transform="translate(427.3 249.5) scale(1.06 1.0)" font-family="Liberation Sans, sans-serif" font-size="13" text-anchor="middle" fill="#000" stroke="#000" stroke-width="0.15">15.5</text>
<text transform="translate(486.3 249.5) scale(1.06 1.0)" font-family="Liberation Sans, sans-serif" font-size="13" text-anchor="middle" fill="#000" stroke="#000" stroke-width="0.15">16.0</text>
<text transform="translate(545.3 249.5) scale(1.06 1.0)" font-family="Liberation Sans, sans-serif" font-size="13" text-anchor="middle" fill="#000" stroke="#000" stroke-width="0.15">16.5</text>
<text transform="translate(292.6 70) scale(1.1 1.0)" font-family="Liberation Sans, sans-serif" font-size="13" text-anchor="end" fill="#000" stroke="#000" stroke-width="0.15">0.00</text>
<text transform="translate(292.6 108.3) scale(1.1 1.0)" font-family="Liberation Sans, sans-serif" font-size="13" text-anchor="end" fill="#000" stroke="#000" stroke-width="0.15">0.05</text>
<text transform="translate(292.6 223.2) scale(1.1 1.0)" font-family="Liberation Sans, sans-serif" font-size="13" text-anchor="end" fill="#000" stroke="#000" stroke-width="0.15">0.20</text>
<g transform="translate(292.7 147.2)" font-family="Liberation Serif, serif" font-size="14.0" fill="#000" stroke="#000" stroke-width="0.42"><text transform="translate(-27.65 0) scale(1.129 1.0)">0</text><text transform="translate(-19.75 0) scale(1.129 1.0)">.</text><text transform="translate(-15.80 0) scale(1.129 1.0)">1</text><text transform="translate(-7.90 0) scale(1.129 1.0)">0</text></g>
<g transform="translate(291.6 185.4)" font-family="Liberation Serif, serif" font-size="14.0" fill="#000" stroke="#000" stroke-width="0.42"><text transform="translate(-27.65 0) scale(1.129 1.0)">0</text><text transform="translate(-19.75 0) scale(1.129 1.0)">.</text><text transform="translate(-15.80 0) scale(1.129 1.0)">1</text><text transform="translate(-7.90 0) scale(1.129 1.0)">5</text></g>
<g transform="translate(254.7 181.1) rotate(-90)" font-family="Liberation Serif, serif" font-size="14.0" fill="#000" stroke="#000" stroke-width="0.42"><text transform="translate(0.00 0) scale(0.929 1.0)">O</text><text transform="translate(9.39 0) scale(1.207 1.0)">p</text><text transform="translate(17.84 0) scale(1.207 1.0)">t</text><text transform="translate(22.54 0) scale(1.207 1.0)">i</text><text transform="translate(27.23 0) scale(1.207 1.0)">c</text><text transform="translate(34.73 0) scale(1.207 1.0)">a</text><text transform="translate(42.24 0) scale(1.207 1.0)">l</text><text transform="translate(52.71 0) scale(0.929 1.0)">D</text><text transform="translate(62.10 0) scale(1.207 1.0)">e</text><text transform="translate(69.60 0) scale(1.207 1.0)">p</text><text transform="translate(78.05 0) scale(1.207 1.0)">t</text><text transform="translate(82.75 0) scale(1.207 1.0)">h</text></g>
<g transform="translate(351 264.7)" font-family="Liberation Serif, serif" font-size="14.0" fill="#000" stroke="#000" stroke-width="0.42"><text transform="translate(0.00 0) scale(0.771 1.0)">W</text><text transform="translate(10.19 0) scale(1.236 1.0)">a</text><text transform="translate(17.87 0) scale(1.236 1.0)">v</text><text transform="translate(26.53 0) scale(1.236 1.0)">e</text><text transform="translate(34.21 0) scale(1.236 1.0)">l</text><text transform="translate(39.02 0) scale(1.236 1.0)">e</text><text transform="translate(46.70 0) scale(1.236 1.0)">n</text><text transform="translate(55.35 0) scale(1.236 1.0)">g</text><text transform="translate(64.00 0) scale(1.236 1.0)">t</text><text transform="translate(68.81 0) scale(1.236 1.0)">h</text><text transform="translate(83.38 0) scale(1.236 1.0)">[</text><text transform="translate(89.15 0) scale(1.004 1.0)">m</text><text transform="translate(100.08 0) scale(1.236 1.0)">i</text><text transform="translate(104.89 0) scale(1.236 1.0)">c</text><text transform="translate(112.57 0) scale(1.236 1.0)">r</text><text transform="translate(118.33 0) scale(1.236 1.0)">o</text><text transform="translate(126.98 0) scale(1.236 1.0)">n</text><text transform="translate(135.64 0) scale(1.236 1.0)">]</text></g>
<g transform="translate(426.7 192.8)" font-family="Liberation Serif, serif" font-size="14.0" fill="#000" stroke="#000" stroke-width="0.42"><text transform="translate(0.00 0) scale(0.913 0.97)">E</text><text transform="translate(7.80 0) scale(0.913 0.97)">C</text><text transform="translate(16.33 0) scale(1.105 0.97)">7</text><text transform="translate(24.06 0) scale(1.105 0.97)">4</text></g>
<g transform="translate(603.5 249.1)" font-family="Liberation Serif, serif" font-size="14.0" fill="#000" stroke="#000" stroke-width="0.42"><text transform="translate(-13.21 0) scale(1.079 1.0)">4</text><text transform="translate(-5.66 0) scale(1.079 1.0)">.</text><text transform="translate(-1.89 0) scale(1.079 1.0)">6</text><text transform="translate(5.66 0) scale(1.079 1.0)">4</text></g>
<g transform="translate(650.9 249.1)" font-family="Liberation Serif, serif" font-size="14.0" fill="#000" stroke="#000" stroke-width="0.42"><text transform="translate(-13.21 0) scale(1.079 1.0)">4</text><text transform="translate(-5.66 0) scale(1.079 1.0)">.</text><text transform="translate(-1.89 0) scale(1.079 1.0)">6</text><text transform="translate(5.66 0) scale(1.079 1.0)">6</text></g>
<g transform="translate(698.3 249.1)" font-family="Liberation Serif, serif" font-size="14.0" fill="#000" stroke="#000" stroke-width="0.42"><text transform="translate(-13.21 0) scale(1.079 1.0)">4</text><text transform="translate(-5.66 0) scale(1.079 1.0)">.</text><text transform="translate(-1.89 0) scale(1.079 1.0)">6</text><text transform="translate(5.66 0) scale(1.079 1.0)">8</text></g>
<g transform="translate(745.7 249.1)" font-family="Liberation Serif, serif" font-size="14.0" fill="#000" stroke="#000" stroke-width="0.42"><text transform="translate(-13.21 0) scale(1.079 1.0)">4</text><text transform="translate(-5.66 0) scale(1.079 1.0)">.</text><text transform="translate(-1.89 0) scale(1.079 1.0)">7</text><text transform="translate(5.66 0) scale(1.079 1.0)">0</text></g>
<text transform="translate(576.4 68.3) scale(1.1 1.0)" font-family="Liberation Sans, sans-serif" font-size="13" text-anchor="end" fill="#000" stroke="#000" stroke-width="0.15">0.0</text>
<text transform="translate(576.4 126) scale(1.1 1.0)" font-family="Liberation Sans, sans-serif" font-size="13" text-anchor="end" fill="#000" stroke="#000" stroke-width="0.15">0.5</text>
<g transform="translate(576.1 184.4)" font-family="Liberation Serif, serif" font-size="14.0" fill="#000" stroke="#000" stroke-width="0.42"><text transform="translate(-20.00 0) scale(1.143 1.0)">1</text><text transform="translate(-12.00 0) scale(1.143 1.0)">.</text><text transform="translate(-8.00 0) scale(1.143 1.0)">0</text></g>
</g>
</svg>
</body></html>
